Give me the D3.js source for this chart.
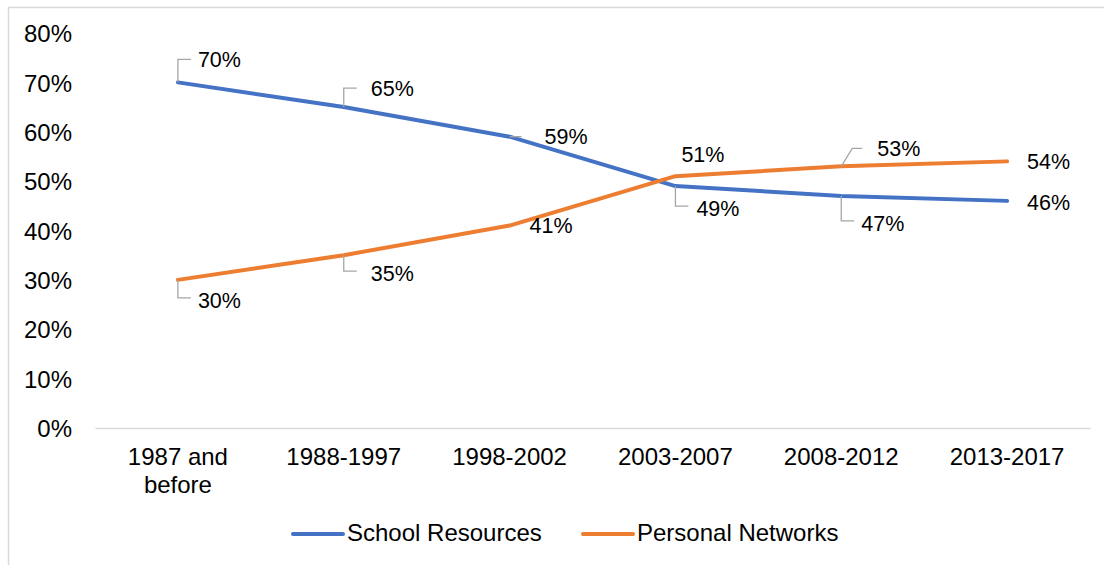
<!DOCTYPE html>
<html>
<head>
<meta charset="utf-8">
<script src="https://cdn.jsdelivr.net/npm/d3@7/dist/d3.min.js"></script>
<style>
  html, body { margin: 0; padding: 0; background: #fff; }
  svg { display: block; }
  text { font-family: "Liberation Sans", Arial, sans-serif; fill: #000; }
</style>
</head>
<body>
<svg id="chart" width="1105" height="565"></svg>
<script>
// Period categories (x axis)
const periods = ["1987 and before", "1988-1997", "1998-2002", "2003-2007", "2008-2012", "2013-2017"];
// Share of respondents by source of first job (%)
const schoolResources = [70, 65, 59, 49, 47, 46];
const personalNetworks = [30, 35, 41, 51, 53, 54];
// Y axis ticks (%)
const yTicks = [0, 10, 20, 30, 40, 50, 60, 70, 80];

const seriesList = [
  { name: "School Resources", values: schoolResources, color: "#4472C4" },
  { name: "Personal Networks", values: personalNetworks, color: "#ED7D31" }
];

// Label placement for each point: [dx, dy] of the text relative to its point,
// and the leader style: "up" / "down" elbow, "diag" elbow, "flat" short dash, or none.
const labelPlacement = {
  "School Resources": [
    { dx: 20, dy: -23, leader: "up" },
    { dx: 27, dy: -19, leader: "up" },
    { dx: 35, dy: 0, leader: "flat" },
    { dx: 21, dy: 22, leader: "down" },
    { dx: 20, dy: 27, leader: "down" },
    { dx: 20, dy: 1, leader: null }
  ],
  "Personal Networks": [
    { dx: 20, dy: 20, leader: "down" },
    { dx: 27, dy: 18, leader: "down" },
    { dx: 20, dy: 0, leader: null },
    { dx: 6, dy: -22, leader: null },
    { dx: 36, dy: -18, leader: "diag" },
    { dx: 20, dy: 0, leader: null }
  ]
};

const axisFont = 24;
const labelFont = 21.5;
const legendFont = 24;

const svg = d3.select("#chart");
const W = 1105, H = 565;

// Outer chart frame (top and left edges visible)
svg.append("path")
  .attr("d", `M8.5,${H} L8.5,7.5 L${W - 1},7.5`)
  .attr("fill", "none")
  .attr("stroke", "#d9d9d9")
  .attr("stroke-width", 1.5);

const plot = { left: 95, right: 1090, top: 33, bottom: 428 };

const x = d3.scaleBand()
  .domain(periods)
  .range([plot.left, plot.right]);

const y = d3.scaleLinear()
  .domain([0, 80])
  .range([plot.bottom, plot.top]);

const cx = d => x(d) + x.bandwidth() / 2;

// Y axis labels
const yAxis = d3.axisLeft(y)
  .tickValues(yTicks)
  .tickFormat(d => d + "%")
  .tickSize(0)
  .tickPadding(0);

const gy = svg.append("g")
  .attr("transform", `translate(72,0)`)
  .call(yAxis);
gy.select(".domain").remove();
gy.selectAll("text")
  .attr("font-size", axisFont)
  .attr("font-family", "Liberation Sans, Arial, sans-serif")
  .attr("fill", "#000")
  .attr("dy", "0.36em");

// X axis baseline and category labels
const xAxis = d3.axisBottom(x).tickSize(0).tickFormat("");
const gx = svg.append("g")
  .attr("transform", `translate(0,${plot.bottom})`)
  .call(xAxis);
gx.select(".domain")
  .attr("stroke", "#d9d9d9")
  .attr("stroke-width", 1.5);

periods.forEach(p => {
  const words = p === "1987 and before" ? ["1987 and", "before"] : [p];
  const t = svg.append("text")
    .attr("x", cx(p))
    .attr("y", plot.bottom + 37)
    .attr("text-anchor", "middle")
    .attr("font-size", axisFont);
  words.forEach((w, i) => {
    t.append("tspan")
      .attr("x", cx(p))
      .attr("dy", i === 0 ? 0 : 28)
      .text(w);
  });
});

// Series lines
const line = d3.line()
  .x((d, i) => cx(periods[i]))
  .y(d => y(d));

seriesList.forEach(s => {
  svg.append("path")
    .datum(s.values)
    .attr("d", line)
    .attr("fill", "none")
    .attr("stroke", s.color)
    .attr("stroke-width", 4)
    .attr("stroke-linejoin", "round")
    .attr("stroke-linecap", "round");
});

// Data labels with leader lines
seriesList.forEach(s => {
  s.values.forEach((v, i) => {
    const px = cx(periods[i]);
    const py = y(v);
    const pl = labelPlacement[s.name][i];
    const tx = px + pl.dx;
    const ty = py + pl.dy;
    let d = null;
    if (pl.leader === "up" || pl.leader === "down") {
      const ly = ty + (pl.leader === "up" ? 0 : -2);
      d = `M${px},${py} L${px},${ly} L${px + 13},${ly}`;
    } else if (pl.leader === "flat") {
      d = `M${px},${py} L${px + 12},${py}`;
    } else if (pl.leader === "diag") {
      d = `M${px},${py} L${px + 11},${ty} L${px + 21},${ty}`;
    }
    if (d) {
      svg.append("path")
        .attr("d", d)
        .attr("fill", "none")
        .attr("stroke", "#a6a6a6")
        .attr("stroke-width", 1.3);
    }
    svg.append("text")
      .attr("x", tx)
      .attr("y", ty)
      .attr("dy", "0.36em")
      .attr("font-size", labelFont)
      .text(v + "%");
  });
});

// Legend
const legendItems = [
  { s: seriesList[0], x: 293 },
  { s: seriesList[1], x: 583 }
];
legendItems.forEach(it => {
  svg.append("line")
    .attr("x1", it.x).attr("x2", it.x + 50)
    .attr("y1", 534).attr("y2", 534)
    .attr("stroke", it.s.color)
    .attr("stroke-width", 4)
    .attr("stroke-linecap", "round");
  svg.append("text")
    .attr("x", it.x + 54)
    .attr("y", 541)
    .attr("font-size", legendFont)
    .text(it.s.name);
});
</script>
</body>
</html>
